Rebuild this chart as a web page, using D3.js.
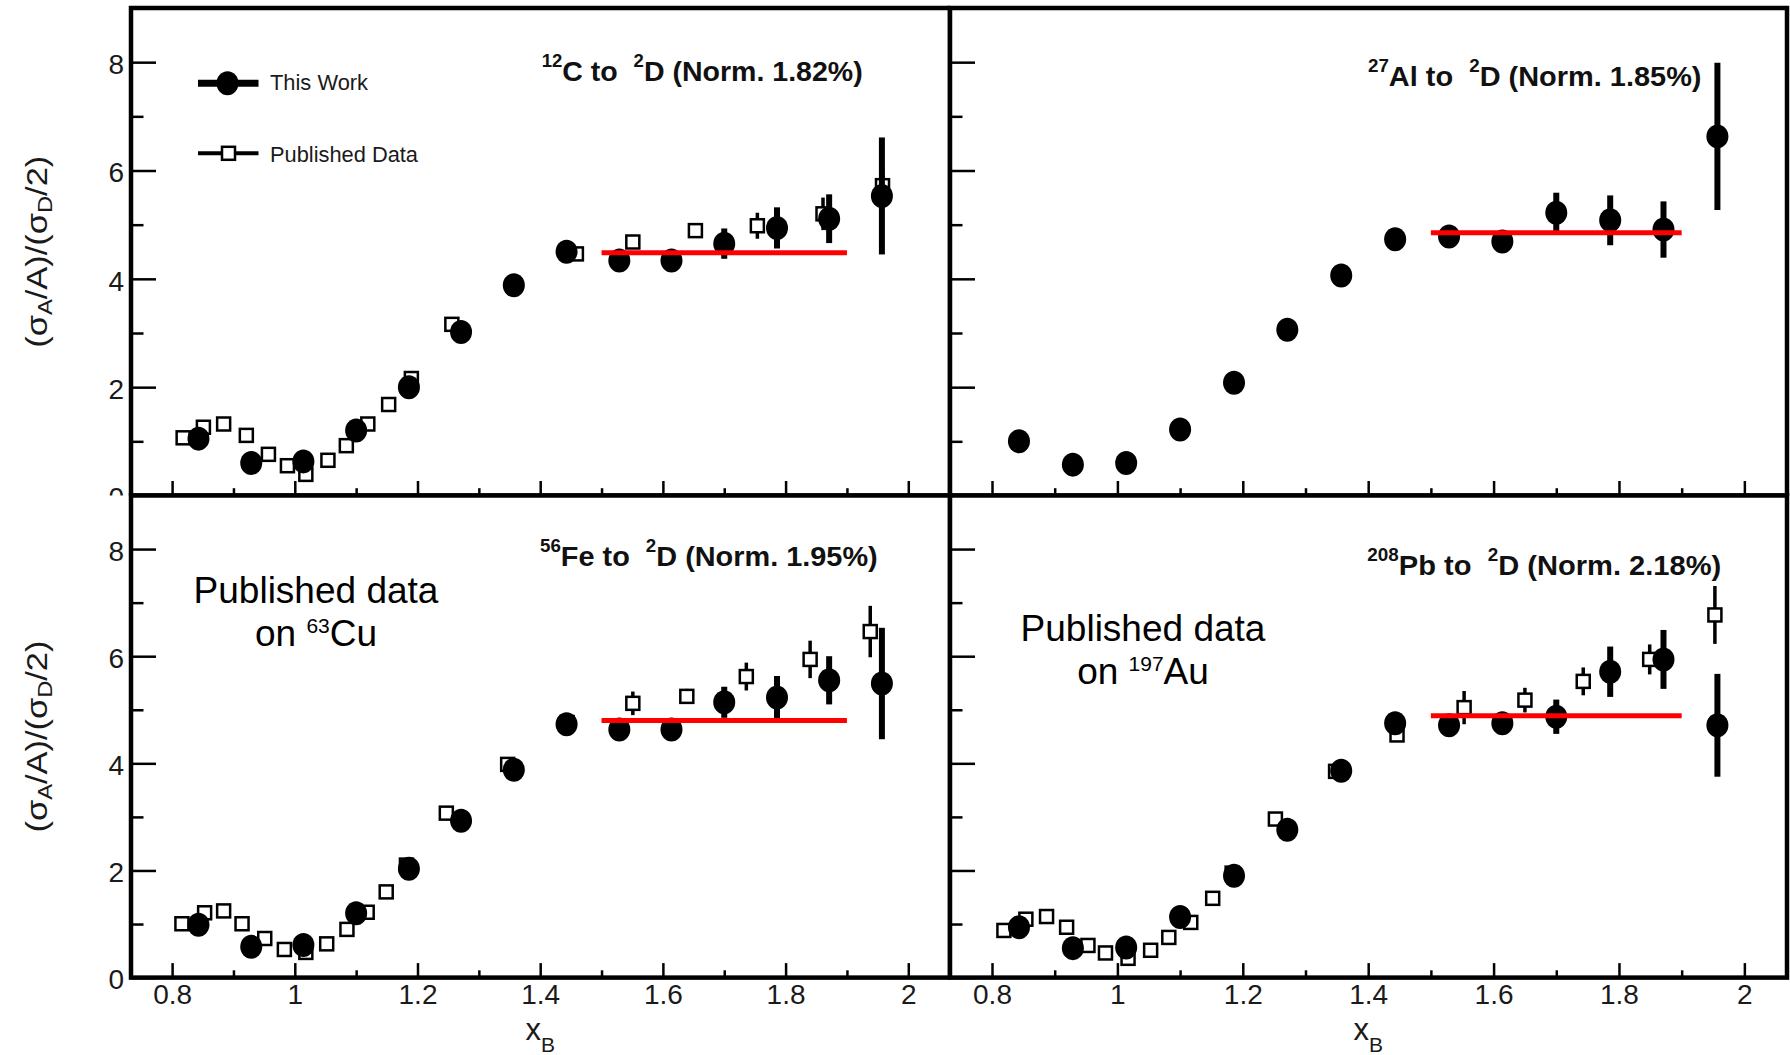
<!DOCTYPE html>
<html>
<head>
<meta charset="utf-8">
<script src="https://cdn.jsdelivr.net/npm/d3@7"></script>
<style>
  html, body { margin: 0; padding: 0; background: #fff; }
  svg { display: block; }
</style>
</head>
<body>
<svg id="chart" width="1790" height="1055"></svg>
<script>
// ---- x_B bin centres of this measurement (shared by all four targets) ----
const binCentres = [0.843, 0.929, 1.014, 1.100, 1.186, 1.271, 1.357, 1.443, 1.529, 1.614, 1.700, 1.786, 1.871, 1.957];

// ---- per-nucleon cross-section ratios to deuterium, this work ----
const carbonRatio    = [1.05, 0.60, 0.63, 1.20, 2.00, 3.02, 3.88, 4.50, 4.34, 4.34, 4.65, 4.94, 5.11, 5.53];
const carbonErr      = [0.04, 0.03, 0.03, 0.04, 0.05, 0.07, 0.09, 0.10, 0.12, 0.14, 0.28, 0.38, 0.45, 1.08];
const aluminiumRatio = [1.00, 0.57, 0.60, 1.22, 2.08, 3.06, 4.06, 4.73, 4.78, 4.69, 5.22, 5.08, 4.91, 6.63];
const aluminiumErr   = [0.04, 0.03, 0.03, 0.04, 0.05, 0.07, 0.09, 0.10, 0.12, 0.15, 0.37, 0.46, 0.52, 1.36];
const ironRatio      = [0.985, 0.575, 0.61, 1.20, 2.03, 2.93, 3.88, 4.73, 4.63, 4.63, 5.14, 5.23, 5.55, 5.49];
const ironErr        = [0.04, 0.03, 0.03, 0.04, 0.05, 0.07, 0.09, 0.10, 0.12, 0.14, 0.29, 0.40, 0.45, 1.04];
const leadRatio      = [0.94, 0.55, 0.56, 1.13, 1.90, 2.76, 3.86, 4.75, 4.71, 4.75, 4.87, 5.71, 5.94, 4.71];
const leadErr        = [0.04, 0.03, 0.03, 0.04, 0.05, 0.07, 0.09, 0.10, 0.12, 0.14, 0.32, 0.47, 0.55, 0.96];

// ---- published data (12C, 63Cu, 197Au) ----
const carbonPubX   = [0.818, 0.851, 0.884, 0.921, 0.957, 0.988, 1.018, 1.054, 1.084, 1.119, 1.153, 1.190, 1.256, 1.459, 1.551, 1.653, 1.754, 1.861, 1.958];
const carbonPubY   = [1.065, 1.26, 1.32, 1.11, 0.76, 0.55, 0.39, 0.65, 0.92, 1.32, 1.68, 2.16, 3.16, 4.46, 4.68, 4.89, 4.98, 5.20, 5.72];
const carbonPubErr = [0.02, 0.02, 0.02, 0.02, 0.02, 0.02, 0.02, 0.03, 0.03, 0.04, 0.05, 0.06, 0.08, 0.10, 0.12, 0.12, 0.24, 0.30, 0.30];

const copperPubX   = [0.816, 0.853, 0.884, 0.914, 0.951, 0.983, 1.018, 1.052, 1.085, 1.118, 1.149, 1.182, 1.247, 1.347, 1.444, 1.551, 1.639, 1.736, 1.840, 1.938];
const copperPubY   = [1.005, 1.21, 1.245, 1.005, 0.73, 0.525, 0.47, 0.63, 0.90, 1.22, 1.60, 2.10, 3.07, 3.98, 4.76, 5.12, 5.25, 5.62, 5.94, 6.46];
const copperPubErr = [0.02, 0.02, 0.02, 0.02, 0.02, 0.02, 0.02, 0.03, 0.03, 0.04, 0.05, 0.06, 0.08, 0.09, 0.10, 0.22, 0.14, 0.26, 0.35, 0.48];

const goldPubX   = [0.819, 0.854, 0.887, 0.919, 0.953, 0.981, 1.017, 1.053, 1.082, 1.117, 1.152, 1.183, 1.252, 1.348, 1.446, 1.553, 1.650, 1.743, 1.849, 1.953];
const goldPubY   = [0.88, 1.09, 1.14, 0.94, 0.60, 0.46, 0.36, 0.51, 0.75, 1.03, 1.48, 1.95, 2.96, 3.85, 4.53, 5.04, 5.18, 5.53, 5.94, 6.77];
const goldPubErr = [0.02, 0.02, 0.02, 0.02, 0.02, 0.02, 0.02, 0.03, 0.03, 0.04, 0.05, 0.06, 0.08, 0.09, 0.10, 0.31, 0.23, 0.26, 0.28, 0.54];

// ---- plateau fits (constant over 1.5 < x_B < 1.9) ----
const plateauLevels = [4.48, 4.85, 4.80, 4.89];
const plateauRange  = [1.5, 1.9];

// ---- panel titles ----
const titleMassNumbers = ["12", "27", "56", "208"];
const titleSymbols     = ["C", "Al", "Fe", "Pb"];
const titleNorms       = ["1.82%", "1.85%", "1.95%", "2.18%"];

// ---- axes ----
const xDomain      = [0.733, 2.068];
const yDomain      = [0, 9];
const xTickValues  = [0.8, 1.0, 1.2, 1.4, 1.6, 1.8, 2.0];
const xTickLabels  = ["0.8", "1", "1.2", "1.4", "1.6", "1.8", "2"];
const xMinorValues = [0.9, 1.1, 1.3, 1.5, 1.7, 1.9];
const yTickValues  = [0, 2, 4, 6, 8];
const yTickLabels  = ["0", "2", "4", "6", "8"];
const yMinorValues = [1, 3, 5, 7];

const legendLabels = ["This Work", "Published Data"];

// ------------------------------------------------------------------
const FONT = '"Liberation Sans", Arial, Helvetica, sans-serif';
const svg = d3.select("#chart");

const colX = [[131, 950], [950, 1787]];
const rowY = [[8, 495.5], [495.5, 977.6]];
const padX = [[0, 950], [950, 1790]];
const padY = [[0, 495.5], [495.5, 1055]];

const panels = [
  { col: 0, row: 0, ratio: carbonRatio,    err: carbonErr,    pubX: carbonPubX, pubY: carbonPubY, pubErr: carbonPubErr,
    title: [541.7, 81, 321],  legend: true,  note: null },
  { col: 1, row: 0, ratio: aluminiumRatio, err: aluminiumErr, pubX: null, pubY: null, pubErr: null,
    title: [1368, 85.5, 333.5], legend: false, note: null },
  { col: 0, row: 1, ratio: ironRatio,      err: ironErr,      pubX: copperPubX, pubY: copperPubY, pubErr: copperPubErr,
    title: [540, 566, 337.7], legend: false, note: { cx: 316, y: 603.3, mass: "63", sym: "Cu" } },
  { col: 1, row: 1, ratio: leadRatio,      err: leadErr,      pubX: goldPubX, pubY: goldPubY, pubErr: goldPubErr,
    title: [1367.3, 575, 354], legend: false, note: { cx: 1143, y: 641.3, mass: "197", sym: "Au" } }
];

function circleMarker(g, cx, cy) {
  g.append("ellipse").attr("cx", cx).attr("cy", cy).attr("rx", 11).attr("ry", 12).attr("fill", "#000");
}
function squareMarker(g, cx, cy) {
  g.append("rect").attr("x", cx - 6.5).attr("y", cy - 6.5).attr("width", 13).attr("height", 13)
    .attr("fill", "#fff").attr("stroke", "#000").attr("stroke-width", 2.5);
}

panels.forEach((p, idx) => {
  const [x0, x1] = colX[p.col];
  const [y0, y1] = rowY[p.row];
  const g = svg.append("g");

  // pad background
  g.append("rect")
    .attr("x", padX[p.col][0]).attr("y", padY[p.row][0])
    .attr("width", padX[p.col][1] - padX[p.col][0])
    .attr("height", padY[p.row][1] - padY[p.row][0])
    .attr("fill", "#fff");

  const x = d3.scaleLinear().domain(xDomain).range([x0, x1]);
  const y = d3.scaleLinear().domain(yDomain).range([y1, y0]);

  // published data: error bars then open squares
  if (p.pubX) {
    const pub = p.pubX.map((v, i) => ({ x: v, y: p.pubY[i], e: p.pubErr[i] }));
    g.append("g").selectAll("line").data(pub).join("line")
      .attr("x1", d => x(d.x)).attr("x2", d => x(d.x))
      .attr("y1", d => y(d.y - d.e)).attr("y2", d => y(d.y + d.e))
      .attr("stroke", "#000").attr("stroke-width", 3.5);
    const sq = g.append("g");
    pub.forEach(d => squareMarker(sq, x(d.x), y(d.y)));
  }

  // this work: error bars then filled circles
  const pts = binCentres.map((v, i) => ({ x: v, y: p.ratio[i], e: p.err[i] }));
  g.append("g").selectAll("line").data(pts).join("line")
    .attr("x1", d => x(d.x)).attr("x2", d => x(d.x))
    .attr("y1", d => y(d.y - d.e)).attr("y2", d => y(d.y + d.e))
    .attr("stroke", "#000").attr("stroke-width", 6);
  g.append("g").selectAll("ellipse").data(pts).join("ellipse")
    .attr("cx", d => x(d.x)).attr("cy", d => y(d.y)).attr("rx", 11).attr("ry", 12).attr("fill", "#000");

  // plateau fit
  const line = d3.line().x(d => x(d[0])).y(d => y(d[1]));
  g.append("path")
    .attr("d", line(plateauRange.map(v => [v, plateauLevels[idx]])))
    .attr("stroke", "#ff0000").attr("stroke-width", 5).attr("fill", "none");

  // frame
  g.append("rect").attr("x", x0).attr("y", y0).attr("width", x1 - x0).attr("height", y1 - y0)
    .attr("fill", "none").attr("stroke", "#000").attr("stroke-width", 4.5);

  // y axis: major + minor ticks pointing inward
  const yMajor = g.append("g").attr("transform", `translate(${x0},0)`)
    .call(d3.axisLeft(y).tickValues(yTickValues).tickFormat((d, i) => yTickLabels[i])
      .tickSizeInner(-25).tickSizeOuter(0).tickPadding(7));
  const yMinor = g.append("g").attr("transform", `translate(${x0},0)`)
    .call(d3.axisLeft(y).tickValues(yMinorValues).tickFormat("").tickSizeInner(-12.5).tickSizeOuter(0));

  // x axis: major + minor ticks pointing inward
  const xMajor = g.append("g").attr("transform", `translate(0,${y1})`)
    .call(d3.axisBottom(x).tickValues(xTickValues).tickFormat((d, i) => xTickLabels[i])
      .tickSizeInner(-14.5).tickSizeOuter(0).tickPadding(7));
  const xMinor = g.append("g").attr("transform", `translate(0,${y1})`)
    .call(d3.axisBottom(x).tickValues(xMinorValues).tickFormat("").tickSizeInner(-7.3).tickSizeOuter(0));

  [yMajor, yMinor, xMajor, xMinor].forEach(a => {
    a.select(".domain").remove();
    a.selectAll(".tick line").attr("stroke", "#000").attr("stroke-width", 2.5);
    a.attr("font-family", FONT).attr("font-size", 28);
    a.selectAll("text").attr("fill", "#1a1a1a");
  });
  yMajor.selectAll("text").attr("dy", "0.4em");
  if (p.col === 1) yMajor.selectAll("text").remove();
  if (p.row === 0) xMajor.selectAll("text").remove();

  // y axis title (left column only)
  if (p.col === 0) {
    const yt = g.append("text")
      .attr("transform", `translate(46.7,${(y0 + y1) / 2}) rotate(-90)`)
      .attr("text-anchor", "middle").attr("font-family", FONT).attr("font-size", 29).attr("fill", "#1a1a1a")
      .attr("textLength", 192).attr("lengthAdjust", "spacingAndGlyphs");
    yt.append("tspan").text("(σ");
    yt.append("tspan").attr("font-size", 20).attr("dy", 5).text("A");
    yt.append("tspan").attr("dy", -5).text("/A)/(σ");
    yt.append("tspan").attr("font-size", 20).attr("dy", 5).text("D");
    yt.append("tspan").attr("dy", -5).text("/2)");
  }

  // x axis title (bottom row)
  if (p.row === 1) {
    const xt = g.append("text")
      .attr("x", x(1.4)).attr("y", 1040)
      .attr("text-anchor", "middle").attr("font-family", FONT).attr("font-size", 31).attr("fill", "#1a1a1a");
    xt.append("tspan").text("x");
    xt.append("tspan").attr("font-size", 21).attr("dy", 11.7).text("B");
  }

  // panel title
  const [tx, ty, tw] = p.title;
  const t = g.append("text")
    .attr("x", tx).attr("y", ty)
    .attr("font-family", FONT).attr("font-weight", "bold").attr("font-size", 28.5).attr("fill", "#111")
    .attr("textLength", tw).attr("lengthAdjust", "spacingAndGlyphs")
    .style("white-space", "pre");
  t.append("tspan").attr("font-size", 18.5).attr("dy", -14).text(titleMassNumbers[idx]);
  t.append("tspan").attr("dy", 14).text(titleSymbols[idx] + " to  ");
  t.append("tspan").attr("font-size", 18.5).attr("dy", -14).text("2");
  t.append("tspan").attr("dy", 14).text("D (Norm. " + titleNorms[idx] + ")");

  // legend
  if (p.legend) {
    const lg = g.append("g");
    lg.append("line").attr("x1", 198).attr("x2", 258.5).attr("y1", 83.3).attr("y2", 83.3)
      .attr("stroke", "#000").attr("stroke-width", 7);
    circleMarker(lg, 227.5, 83.3);
    lg.append("line").attr("x1", 198).attr("x2", 258.5).attr("y1", 153.3).attr("y2", 153.3)
      .attr("stroke", "#000").attr("stroke-width", 4);
    squareMarker(lg, 228.5, 153.3);
    lg.selectAll("text.lab").data(legendLabels).join("text")
      .attr("class", "lab")
      .attr("x", 270).attr("y", (d, i) => i === 0 ? 90 : 161.7)
      .attr("font-family", FONT).attr("font-size", 22.5).attr("fill", "#1a1a1a")
      .attr("textLength", (d, i) => i === 0 ? 98 : 148).attr("lengthAdjust", "spacingAndGlyphs")
      .text(d => d);
  }

  // note about which published nucleus is compared
  if (p.note) {
    const n = p.note;
    g.append("text").attr("x", n.cx).attr("y", n.y).attr("text-anchor", "middle")
      .attr("font-family", FONT).attr("font-size", 37).attr("fill", "#000").text("Published data");
    const l2 = g.append("text").attr("x", n.cx).attr("y", n.y + 42.5).attr("text-anchor", "middle")
      .attr("font-family", FONT).attr("font-size", 37).attr("fill", "#000");
    l2.append("tspan").text("on ");
    l2.append("tspan").attr("font-size", 21).attr("dy", -13).text(n.mass);
    l2.append("tspan").attr("dy", 13).text(n.sym);
  }
});
</script>
</body>
</html>
